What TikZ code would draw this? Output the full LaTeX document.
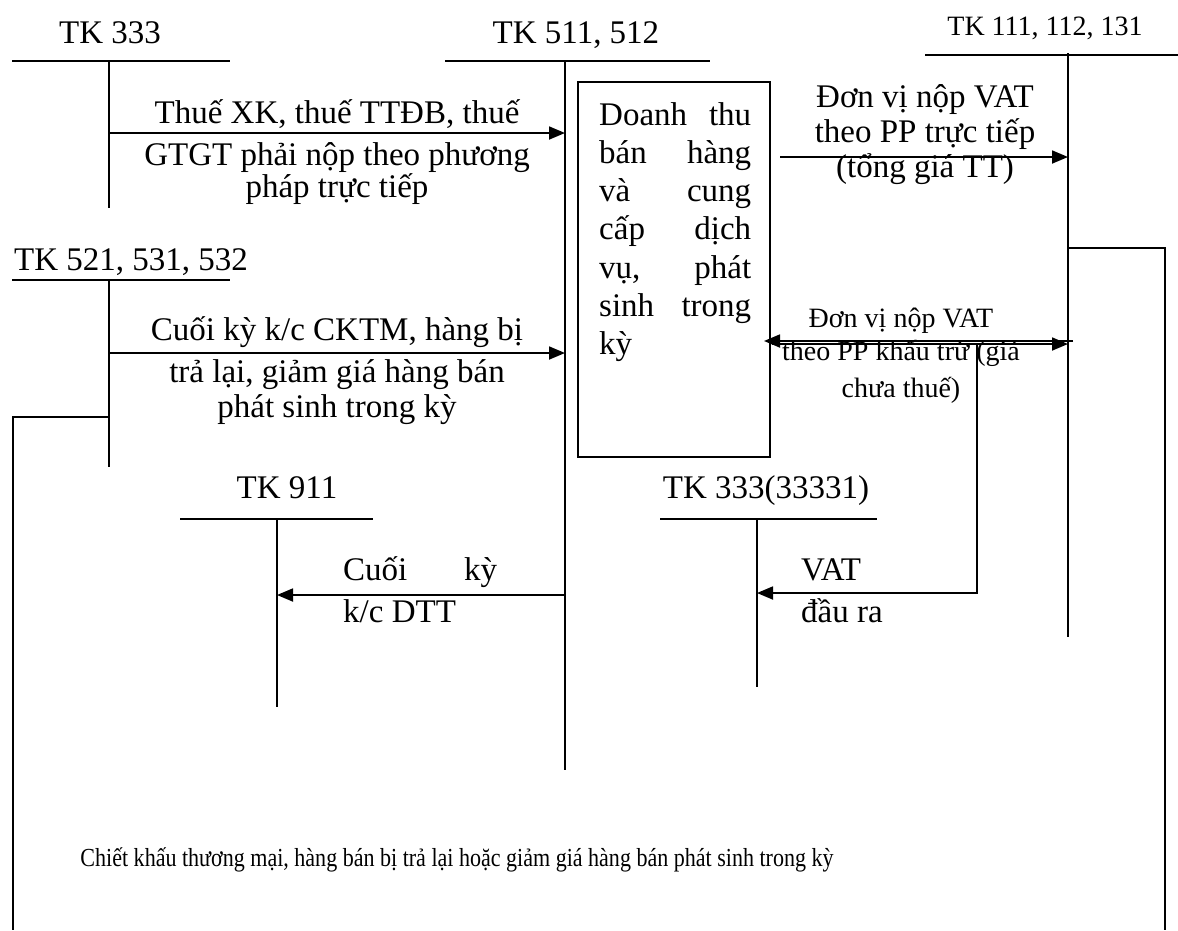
\documentclass[tikz,border=0pt]{standalone}
\usepackage{fontspec}
\setmainfont{Liberation Serif}
\usetikzlibrary{arrows.meta}
\newcommand{\fntA}{\fontsize{33}{36}\selectfont}
\newcommand{\fntB}{\fontsize{28}{32}\selectfont}
\newcommand{\fntC}{\fontsize{33}{38.3}\selectfont}
\newcommand{\fntD}{\fontsize{26}{30}\selectfont}
\begin{document}
\begin{tikzpicture}[x=1pt,y=-1pt,
  ln/.style={line width=1.8pt},
  arr/.style={ln,-{Triangle[length=16pt,width=13pt]}},
  tA/.style={inner sep=0pt,anchor=base,font=\fntA},
  tB/.style={inner sep=0pt,anchor=base,font=\fntB},
  tL/.style={inner sep=0pt,anchor=base west,font=\fntA}]
\useasboundingbox (0,0) rectangle (1178,930);

% account labels
\node[tA] (l333) at (110,43) {TK 333};
\node[tA] (l511) at (576,43) {TK 511, 512};
\node[tB] (l111) at (1045,35) {TK 111, 112, 131};
\node[tA] (l521) at (131,270) {TK 521, 531, 532};
\node[tA] (l911) at (287,498) {TK 911};
\node[tA] (l3331) at (766,498) {TK 333(33331)};

% T-account coordinates
\coordinate (h333L) at (12,61);  \coordinate (h333R) at (230,61);
\coordinate (v333T) at (109,61); \coordinate (v333B) at (109,208);
\coordinate (h511L) at (445,61); \coordinate (h511R) at (710,61);
\coordinate (v511T) at (565,61); \coordinate (v511B) at (565,770);
\coordinate (h111L) at (925,55); \coordinate (h111R) at (1178,55);
\coordinate (v111T) at (1068,53); \coordinate (v111B) at (1068,637);
\coordinate (h521L) at (12,280); \coordinate (h521R) at (230,280);
\coordinate (v521T) at (109,280); \coordinate (v521B) at (109,467);
\coordinate (h911L) at (180,519); \coordinate (h911R) at (373,519);
\coordinate (v911T) at (277,519); \coordinate (v911B) at (277,707);
\coordinate (h3331L) at (660,519); \coordinate (h3331R) at (877,519);
\coordinate (v3331T) at (757,519); \coordinate (v3331B) at (757,687);

\draw[ln] (h333L) -- (h333R);   \draw[ln] (v333T) -- (v333B);
\draw[ln] (h511L) -- (h511R);   \draw[ln] (v511T) -- (v511B);
\draw[ln] (h111L) -- (h111R);   \draw[ln] (v111T) -- (v111B);
\draw[ln] (h521L) -- (h521R);   \draw[ln] (v521T) -- (v521B);
\draw[ln] (h911L) -- (h911R);   \draw[ln] (v911T) -- (v911B);
\draw[ln] (h3331L) -- (h3331R); \draw[ln] (v3331T) -- (v3331B);

% box
\node[draw,ln,minimum width=192pt,minimum height=375pt,inner sep=0pt] (box) at (674,269.5) {};
\node[inner sep=0pt,anchor=base west,font=\fntC] (boxtxt) at (599,125)
  {\parbox[t]{152pt}{Doanh\hfill thu\\ bán\hfill hàng\\ và\hfill cung\\ cấp\hfill dịch\\ vụ,\hfill phát\\ sinh\hfill trong\\ kỳ}};

% arrow 1
\coordinate (a1s) at (109,133); \coordinate (a1e) at (565,133);
\draw[arr] (a1s) -- (a1e);
\node[tA] (t1a) at (337,123) {Thuế XK, thuế TTĐB, thuế};
\node[tA] (t1b) at (337,165) {GTGT phải nộp theo phương};
\node[tA] (t1c) at (337,197) {pháp trực tiếp};

% arrow 2
\coordinate (a2s) at (109,353); \coordinate (a2e) at (565,353);
\draw[arr] (a2s) -- (a2e);
\node[tA] (t2a) at (337,340) {Cuối kỳ k/c CKTM, hàng bị};
\node[tA] (t2b) at (337,382) {trả lại, giảm giá hàng bán};
\node[tA] (t2c) at (337,417) {phát sinh trong kỳ};

% arrow 3
\coordinate (a3s) at (780,157); \coordinate (a3e) at (1068,157);
\draw[arr] (a3s) -- (a3e);
\node[tA] (t3a) at (925,107) {Đơn vị nộp VAT};
\node[tA] (t3b) at (925,142) {theo PP trực tiếp};
\node[tA] (t3c) at (925,177) {(tổng giá TT)};

% double arrow
\coordinate (d1s) at (1073,341); \coordinate (d1e) at (764,341);
\coordinate (d2s) at (772,344);  \coordinate (d2e) at (1068,344);
\draw[arr] (d1s) -- (d1e);
\draw[arr] (d2s) -- (d2e);
\node[tB] (t4a) at (901,327) {Đơn vị nộp VAT};
\node[tB] (t4b) at (901,360) {theo PP khấu trừ (giá};
\node[tB] (t4c) at (901,397) {chưa thuế)};

% VAT output
\coordinate (k1) at (977,343); \coordinate (k2) at (757,593);
\draw[arr] (k1) |- (k2);
\node[tL] (t5a) at (801,580) {VAT};
\node[tL] (t5b) at (801,622) {đầu ra};

% to 911
\coordinate (a6s) at (565,595); \coordinate (a6e) at (277,595);
\draw[arr] (a6s) -- (a6e);
\node[tL] (t6a) at (343,580) {\makebox[154pt]{Cuối\hfill kỳ}};
\node[tL] (t6b) at (343,622) {k/c DTT};

% bracket loops
\coordinate (r1) at (1068,248); \coordinate (r2) at (1165,930);
\coordinate (q1) at (109,417);  \coordinate (q2) at (13,930);
\draw[ln] (r1) -| (r2);
\draw[ln] (q1) -| (q2);
\node[inner sep=0pt,anchor=base,font=\fntD] (bottom) at (457,866)
  {\resizebox{753pt}{\height}{Chiết khấu thương mại, hàng bán bị trả lại hoặc giảm giá hàng bán phát sinh trong kỳ}};
\end{tikzpicture}
\end{document}
